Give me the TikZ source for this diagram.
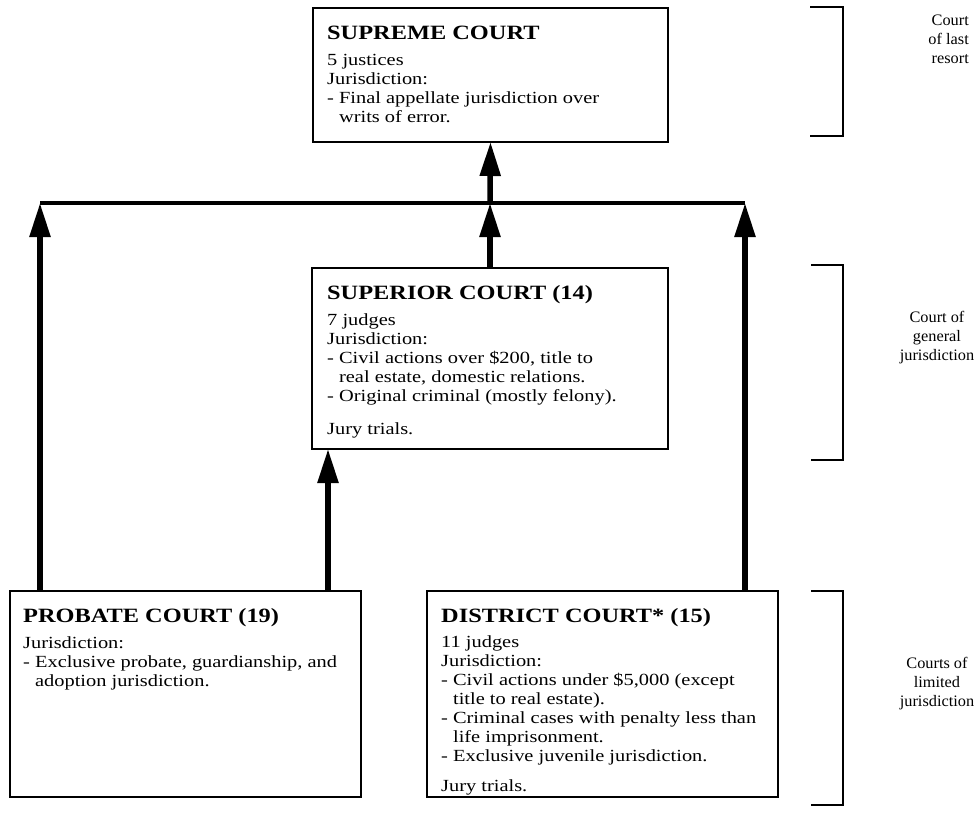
\documentclass[tikz,border=0pt]{standalone}
\usepackage{fontspec}
\setmainfont{Liberation Serif}[FakeStretch=1.2]
\newfontfamily\labfam{Liberation Serif}[FakeStretch=1.02]
\usetikzlibrary{arrows.meta}
\newcommand\bodyfnt{\fontsize{17}{19}\selectfont}
\newcommand\headfnt{\fontsize{20.3}{24}\selectfont\bfseries}
\newcommand\labfnt{\labfam\fontsize{16}{19}\selectfont}
\newcommand\ind{\hphantom{- }}
\begin{document}
\begin{tikzpicture}[x=1pt,y=-1pt,
  court/.style={draw, line width=2.6pt, anchor=north west, inner sep=0pt, outer sep=0pt},
  head/.style={anchor=base west, inner sep=0pt, font=\headfnt},
  body/.style={anchor=north west, inner sep=0pt, align=left, font=\bodyfnt},
  lab/.style={inner sep=0pt, font=\labfnt},
  arr/.style={line width=5.5pt, -{Triangle[width=20pt,length=34pt]}},
  hline/.style={line width=4.5pt},
  brk/.style={line width=2.4pt}]
\useasboundingbox (0,0) rectangle (975,815);

% boxes
\node[court, minimum width=355pt, minimum height=134pt] (supreme) at (313,8) {};
\node[court, minimum width=356pt, minimum height=181pt] (superior) at (312,268) {};
\node[court, minimum width=351pt, minimum height=206pt] (probate) at (10,591) {};
\node[court, minimum width=351pt, minimum height=206pt] (district) at (427,591) {};

% texts
\node[head] (supH) at (327,39) {SUPREME COURT};
\node[body] (supB) at (327,54.4) {5 justices\\Jurisdiction:\\- Final appellate jurisdiction over\\\ind writs of error.};

\node[head] (spH) at (327,299) {SUPERIOR COURT (14)};
\node[body] (spB) at (327,313.4) {7 judges\\Jurisdiction:\\- Civil actions over \$200, title to\\\ind real estate, domestic relations.\\- Original criminal (mostly felony).\\[14pt]Jury trials.};

\node[head] (prH) at (23,622) {PROBATE COURT (19)};
\node[body] (prB) at (23,636.4) {Jurisdiction:\\- Exclusive probate, guardianship, and\\\ind adoption jurisdiction.};

\node[head] (diH) at (441,622) {DISTRICT COURT* (15)};
\node[body] (diB) at (441,635.4) {11 judges\\Jurisdiction:\\- Civil actions under \$5,000 (except\\\ind title to real estate).\\- Criminal cases with penalty less than\\\ind life imprisonment.\\- Exclusive juvenile jurisdiction.\\[11pt]Jury trials.};

% connectors
\coordinate (jL) at (40,203);
\coordinate (jM) at (490,203);
\coordinate (jR) at (745,203);
\coordinate (xP) at (328,500);
\draw[hline] (jL) -- (jR);
\draw[arr] (jM) -- (supreme.south);
\draw[arr] (superior.north) -- (jM);
\draw[arr] (probate.north -| jL) -- (jL);
\draw[arr] (district.north -| jR) -- (jR);
\draw[arr] (probate.north -| xP) -- (superior.south -| xP);

% brackets
\draw[brk] (810,7) -- (843,7) -- (843,136) -- (810,136);
\draw[brk] (811,265) -- (843,265) -- (843,460) -- (811,460);
\draw[brk] (811,591) -- (843,591) -- (843,805) -- (811,805);

% level labels
\node[lab, anchor=north east, align=right] (l1) at (969,15) {Court\\of last\\resort};
\node[lab, anchor=north, align=center] (l2) at (937,311) {Court of\\general\\jurisdiction};
\node[lab, anchor=north, align=center] (l3) at (937,657) {Courts of\\limited\\jurisdiction};
\end{tikzpicture}
\end{document}
